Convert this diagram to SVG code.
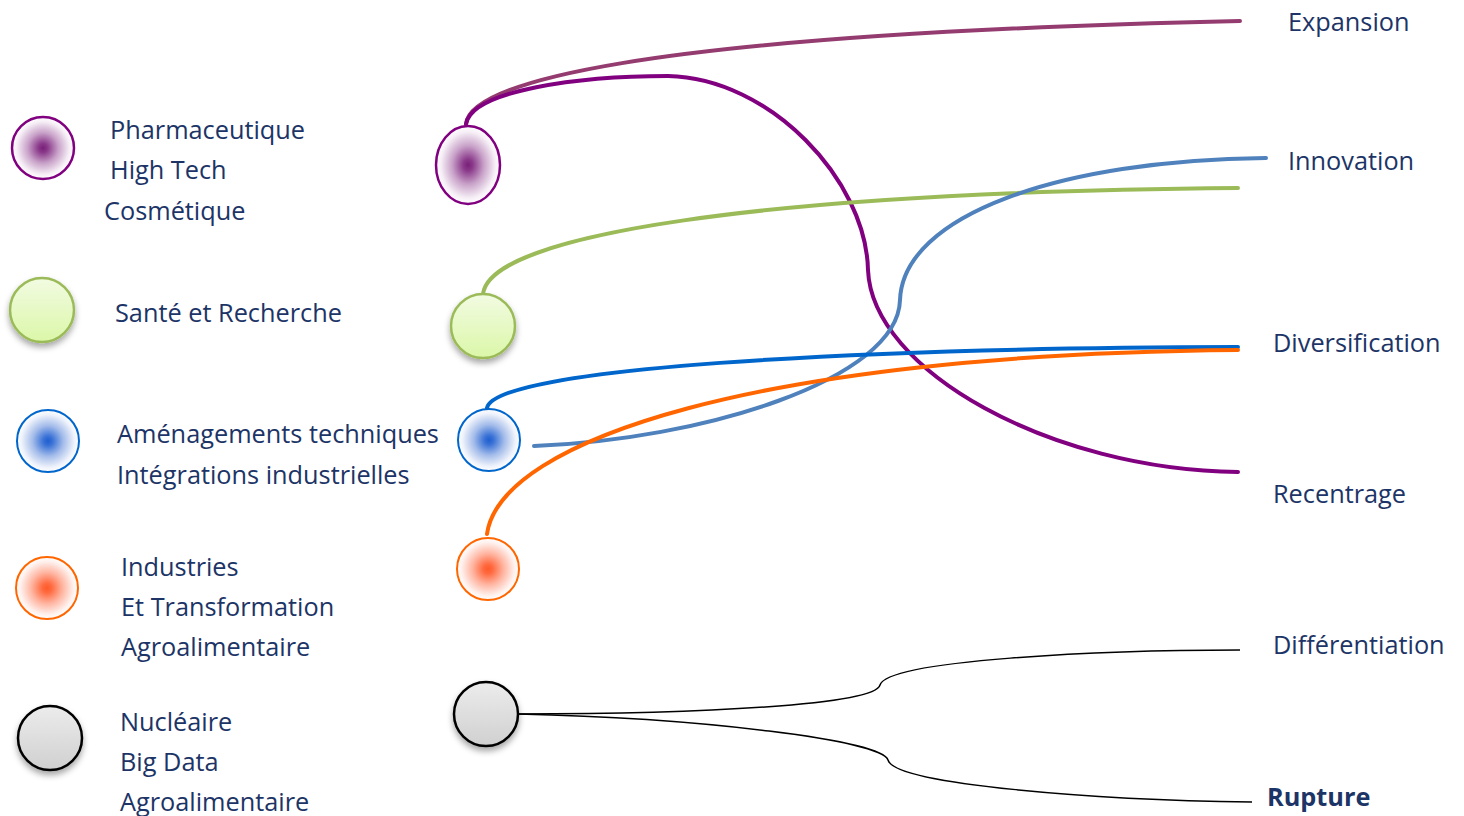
<svg xmlns="http://www.w3.org/2000/svg" width="1464" height="816" viewBox="0 0 1464 816">
<style>
.t{font-family:"Open Sans","Liberation Sans",sans-serif;font-size:25.3px;fill:#1c3466}
.b{font-weight:bold}
.c{fill:none;stroke-width:4;stroke-linecap:round}
.k{fill:none;stroke:#000;stroke-width:1.5}
</style>
<defs>
<filter id="sh" x="-30%" y="-30%" width="160%" height="170%"><feDropShadow dx="0" dy="4" stdDeviation="3" flood-color="#000" flood-opacity="0.35"/></filter>
<radialGradient id="gp"><stop offset="0" stop-color="#7a1f7a"/><stop offset="0.15" stop-color="#8a3a8a"/><stop offset="0.5" stop-color="#c9a3c9"/><stop offset="0.85" stop-color="#f6eff6"/><stop offset="1" stop-color="#fff"/></radialGradient>
<radialGradient id="gb"><stop offset="0" stop-color="#1f5fd0"/><stop offset="0.15" stop-color="#3a72d6"/><stop offset="0.5" stop-color="#a5bdea"/><stop offset="0.85" stop-color="#eef2fb"/><stop offset="1" stop-color="#fff"/></radialGradient>
<radialGradient id="go"><stop offset="0" stop-color="#ff5a2a"/><stop offset="0.15" stop-color="#ff6a40"/><stop offset="0.5" stop-color="#ffb4a0"/><stop offset="0.85" stop-color="#fff0ec"/><stop offset="1" stop-color="#fff"/></radialGradient>
<linearGradient id="gg" x1="0" y1="0" x2="0" y2="1"><stop offset="0" stop-color="#f2fbe2"/><stop offset="1" stop-color="#dbf7a8"/></linearGradient>
<linearGradient id="gy" x1="0" y1="0" x2="0" y2="1"><stop offset="0" stop-color="#ececec"/><stop offset="1" stop-color="#d0d0d0"/></linearGradient>
</defs>

<g id="connectors">
<path class="c" stroke="#943b70" d="M466,124 C470,85 620,35 1240,21"/>
<path class="c" stroke="#800080" d="M466,124 C472,90 580,76 668,76 C770,78 866,180 868,270 C872,370 1050,470 1238,472"/>
<path class="c" stroke="#9bbb59" d="M483,294 C490,235 760,192 1238,188"/>
<path class="c" stroke="#4f81bd" d="M534,446 C700,440 898,380 900,300 C903,215 1060,160 1266,158"/>
<path class="c" stroke="#0066cc" d="M487,408 C495,368 850,348 1238,347"/>
<path class="c" stroke="#ff6600" d="M487,534 C500,440 760,354 1238,350"/>
<path class="k" d="M518,714 C700,714 875,705 880,685 C888,660 1100,650 1240,650"/>
<path class="k" d="M518,714 C700,718 882,740 888,760 C895,785 1100,800 1252,802"/>
</g>

<g id="legend-pharma"><circle cx="43" cy="148" r="31" fill="url(#gp)" stroke="#800080" stroke-width="2.5"/></g>
<g id="node-pharma"><ellipse cx="468" cy="165" rx="32" ry="39" fill="url(#gp)" stroke="#800080" stroke-width="2.5"/></g>
<g id="legend-sante"><circle cx="42" cy="310" r="32" fill="url(#gg)" stroke="#9bbb59" stroke-width="2.5" filter="url(#sh)"/></g>
<g id="node-sante"><circle cx="483" cy="326" r="32" fill="url(#gg)" stroke="#9bbb59" stroke-width="2.5" filter="url(#sh)"/></g>
<g id="legend-amenagement"><circle cx="48" cy="441" r="31" fill="url(#gb)" stroke="#0066cc" stroke-width="2"/></g>
<g id="node-amenagement"><circle cx="489" cy="440" r="31" fill="url(#gb)" stroke="#0066cc" stroke-width="2"/></g>
<g id="legend-industries"><circle cx="47" cy="588" r="31" fill="url(#go)" stroke="#ff6600" stroke-width="2"/></g>
<g id="node-industries"><circle cx="488" cy="569" r="31" fill="url(#go)" stroke="#ff6600" stroke-width="2"/></g>
<g id="node-nucleaire"><circle cx="486" cy="714" r="32" fill="url(#gy)" stroke="#000" stroke-width="2.5" filter="url(#sh)"/></g>
<g id="legend-nucleaire"><circle cx="50" cy="738" r="32" fill="url(#gy)" stroke="#000" stroke-width="2.5" filter="url(#sh)"/></g>

<g id="legend-text">
<text class="t" x="110" y="139">Pharmaceutique</text>
<text class="t" x="110" y="179">High Tech</text>
<text class="t" x="104" y="220">Cosmétique</text>
<text class="t" x="115" y="322">Santé et Recherche</text>
<text class="t" x="117" y="443">Aménagements techniques</text>
<text class="t" x="117" y="484">Intégrations industrielles</text>
<text class="t" x="121" y="576">Industries</text>
<text class="t" x="121" y="616">Et Transformation</text>
<text class="t" x="121" y="656">Agroalimentaire</text>
<text class="t" x="120" y="731">Nucléaire</text>
<text class="t" x="120" y="771">Big Data</text>
<text class="t" x="120" y="811">Agroalimentaire</text>
</g>
<g id="outcomes">
<text class="t" x="1288" y="31">Expansion</text>
<text class="t" x="1288" y="170">Innovation</text>
<text class="t" x="1273" y="352">Diversification</text>
<text class="t" x="1273" y="503">Recentrage</text>
<text class="t" x="1273" y="654">Différentiation</text>
<text class="t b" x="1267" y="806">Rupture</text>
</g>
</svg>
